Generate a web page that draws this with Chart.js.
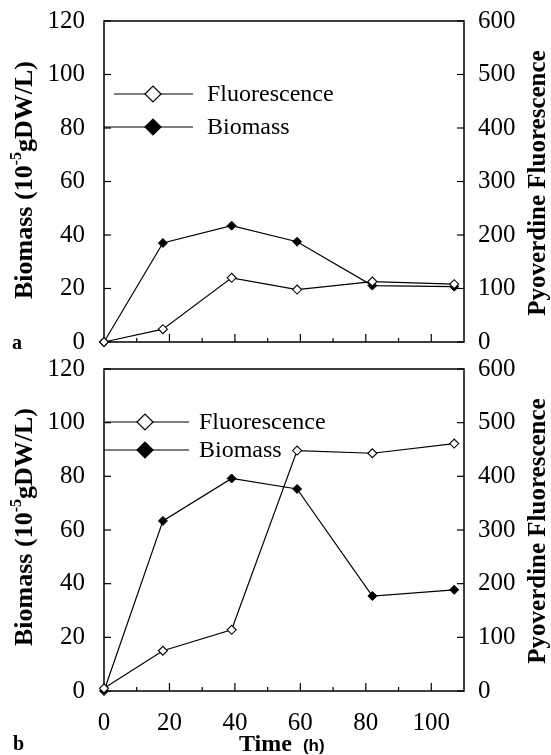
<!DOCTYPE html>
<html>
<head>
<meta charset="utf-8">
<script src="https://cdn.jsdelivr.net/npm/chart.js@4"></script>
<style>
  html, body { margin: 0; padding: 0; background: #fff; }
  #wrap { position: relative; width: 551px; height: 755px; }
  canvas { position: absolute; left: 0; }
  #chartA { top: 0; }
  #chartB { top: 345px; }
</style>
</head>
<body>
<div id="wrap">
  <canvas id="chartA" width="551" height="362"></canvas>
  <canvas id="chartB" width="551" height="410"></canvas>
</div>
<script>
// Sampling times (h), same for both panels
const times = [0, 18, 39, 59, 82, 107];

// Panel a
const biomassA = [0, 37, 43.5, 37.5, 21.1, 20.7];
const fluorA = [0, 24, 120, 98, 113, 108];

// Panel b
const biomassB = [0, 63.4, 79.2, 75.3, 35.4, 37.7];
const fluorB = [5, 75, 114, 448, 443, 461];

const biomassTicks = [0, 20, 40, 60, 80, 100, 120];
const fluorTicks = [0, 100, 200, 300, 400, 500, 600];
const timeLabels = [0, 20, 40, 60, 80, 100];

const serif = '"Liberation Serif", "Times New Roman", serif';
Chart.defaults.color = '#000';
Chart.defaults.font.family = serif;

const toPoints = (xs, ys) => xs.map((x, i) => ({ x: x, y: ys[i] }));

const line = (ctx, x0, y0, x1, y1) => {
    ctx.beginPath();
    ctx.moveTo(x0, y0);
    ctx.lineTo(x1, y1);
    ctx.stroke();
};

const diamond = (ctx, x, y, r, filled) => {
    ctx.beginPath();
    ctx.moveTo(x - r, y);
    ctx.lineTo(x, y - r);
    ctx.lineTo(x + r, y);
    ctx.lineTo(x, y + r);
    ctx.closePath();
    ctx.fillStyle = filled ? '#000' : '#fff';
    ctx.fill();
    ctx.lineWidth = 1.2;
    ctx.strokeStyle = '#000';
    ctx.stroke();
};

// Box around the plot plus inward tick marks
const framePlugin = {
    id: 'frame',
    beforeDatasetsDraw(chart) {
        const { ctx, chartArea: a, scales } = chart;
        ctx.save();
        ctx.strokeStyle = '#000';
        ctx.lineWidth = 1.5;
        ctx.strokeRect(a.left, a.top, a.right - a.left, a.bottom - a.top);
        ctx.lineWidth = 1.2;
        scales.x.ticks.forEach(t => {
            if (t.value <= 0 || t.value >= 110) return;
            const px = scales.x.getPixelForValue(t.value);
            line(ctx, px, a.bottom, px, a.bottom - (t.value % 20 === 0 ? 8 : 4));
        });
        scales.y.ticks.forEach(t => {
            const py = scales.y.getPixelForValue(t.value);
            line(ctx, a.left, py, a.left + 7, py);
        });
        scales.y2.ticks.forEach(t => {
            const py = scales.y2.getPixelForValue(t.value);
            line(ctx, a.right, py, a.right - 7, py);
        });
        ctx.restore();
    }
};

// Legend, titles and panel letter
const decorPlugin = {
    id: 'decor',
    afterDraw(chart, args, opts) {
        const { ctx } = chart;
        ctx.save();
        ctx.strokeStyle = '#000';
        ctx.lineWidth = 1.2;
        opts.legend.forEach(item => {
            line(ctx, item.x0, item.y, item.x1, item.y);
            diamond(ctx, item.xm, item.y, 8, item.filled);
            ctx.fillStyle = '#000';
            ctx.font = '24px ' + serif;
            ctx.textBaseline = 'middle';
            ctx.textAlign = 'left';
            ctx.fillText(item.text, item.xt, item.y + 1);
        });

        // left title with superscript
        ctx.save();
        ctx.translate(25, opts.leftTitleY);
        ctx.rotate(-Math.PI / 2);
        ctx.textBaseline = 'middle';
        const big = 'bold 26px ' + serif;
        const small = 'bold 16px ' + serif;
        const parts = [['Biomass (10', big, 0], ['-5', small, -8], ['gDW/L)', big, 0]];
        let total = 0;
        parts.forEach(p => { ctx.font = p[1]; total += ctx.measureText(p[0]).width; });
        let x = -total / 2;
        parts.forEach(p => {
            ctx.font = p[1];
            ctx.fillText(p[0], x, p[2]);
            x += ctx.measureText(p[0]).width;
        });
        ctx.restore();

        // right title
        ctx.save();
        ctx.translate(539, opts.rightTitleY);
        ctx.rotate(-Math.PI / 2);
        ctx.textAlign = 'center';
        ctx.textBaseline = 'middle';
        ctx.font = 'bold 25px ' + serif;
        ctx.fillText('Pyoverdine Fluorescence', 0, 0);
        ctx.restore();

        // panel letter
        ctx.font = 'bold 20px ' + serif;
        ctx.textAlign = 'left';
        ctx.textBaseline = 'alphabetic';
        ctx.fillText(opts.letter, opts.letterX, opts.letterY);

        // x title only on the lower panel
        if (opts.xTitle) {
            ctx.font = 'bold 24px ' + serif;
            const w1 = ctx.measureText('Time ').width;
            ctx.fillText('Time ', 239, opts.xTitleY);
            ctx.font = 'bold 17px "Liberation Sans", Arial, sans-serif';
            ctx.fillText('(h)', 239 + w1 + 5, opts.xTitleY);
        }
        ctx.restore();
    }
};

// fixed axis sizes, no label overflow padding
const fixWidth = w => s => { s.width = w; s.paddingTop = 0; s.paddingBottom = 0; };

const makeChart = (id, biomass, fluor, cfg) => {
    const ctx = document.getElementById(id).getContext('2d');
    return new Chart(ctx, {
        type: 'line',
        data: {
            datasets: [{
                label: 'Fluorescence',
                data: toPoints(times, fluor),
                yAxisID: 'y2',
                borderColor: '#000',
                borderWidth: 1.2,
                pointStyle: 'rectRot',
                pointRadius: 4.5,
                pointBackgroundColor: '#fff',
                pointBorderColor: '#000',
                pointBorderWidth: 1.1,
                clip: false
            }, {
                label: 'Biomass',
                data: toPoints(times, biomass),
                yAxisID: 'y',
                borderColor: '#000',
                borderWidth: 1.2,
                pointStyle: 'rectRot',
                pointRadius: 4.5,
                pointBackgroundColor: '#000',
                pointBorderColor: '#000',
                pointBorderWidth: 1,
                clip: false
            }]
        },
        options: {
            responsive: false,
            animation: false,
            layout: { padding: { top: cfg.top, left: 0, right: 0, bottom: 0 } },
            plugins: {
                legend: { display: false },
                tooltip: { enabled: false },
                decor: cfg.decor
            },
            scales: {
                x: {
                    type: 'linear',
                    min: 0,
                    max: 110,
                    grid: { display: false },
                    border: { display: false },
                    ticks: {
                        display: cfg.showX,
                        stepSize: 10,
                        padding: 9,
                        maxRotation: 0,
                        autoSkip: false,
                        font: { size: 25 },
                        callback: v => timeLabels.includes(v) ? String(v) : ''
                    },
                    afterFit: s => { s.height = cfg.xHeight; s.paddingLeft = 0; s.paddingRight = 0; }
                },
                y: {
                    position: 'left',
                    min: 0,
                    max: 120,
                    grid: { display: false },
                    border: { display: false },
                    ticks: {
                        stepSize: 20,
                        padding: 11,
                        font: { size: 25 },
                        callback: v => biomassTicks.includes(v) ? String(v) : ''
                    },
                    afterFit: fixWidth(104)
                },
                y2: {
                    position: 'right',
                    min: 0,
                    max: 600,
                    grid: { display: false },
                    border: { display: false },
                    ticks: {
                        stepSize: 100,
                        padding: 6,
                        font: { size: 25 },
                        callback: v => fluorTicks.includes(v) ? String(v) : ''
                    },
                    afterFit: fixWidth(87)
                }
            }
        },
        plugins: [framePlugin, decorPlugin]
    });
};

makeChart('chartA', biomassA, fluorA, {
    top: 21,
    xHeight: 20,
    showX: false,
    decor: {
        legend: [
            { text: 'Fluorescence', filled: false, y: 94, x0: 114, x1: 193, xm: 153, xt: 207 },
            { text: 'Biomass', filled: true, y: 127, x0: 104, x1: 193, xm: 153, xt: 207 }
        ],
        leftTitleY: 180,
        rightTitleY: 183,
        letter: 'a',
        letterX: 12,
        letterY: 349
    }
});

// panel b canvas overlaps panel a by 17px so its top labels are not clipped
makeChart('chartB', biomassB, fluorB, {
    top: 24,
    xHeight: 64,
    showX: true,
    decor: {
        legend: [
            { text: 'Fluorescence', filled: false, y: 77, x0: 104, x1: 189, xm: 145, xt: 199 },
            { text: 'Biomass', filled: true, y: 105, x0: 104, x1: 189, xm: 145, xt: 199 }
        ],
        leftTitleY: 182,
        rightTitleY: 186,
        letter: 'b',
        letterX: 13,
        letterY: 405,
        xTitle: true,
        xTitleY: 406
    }
});
</script>
</body>
</html>
